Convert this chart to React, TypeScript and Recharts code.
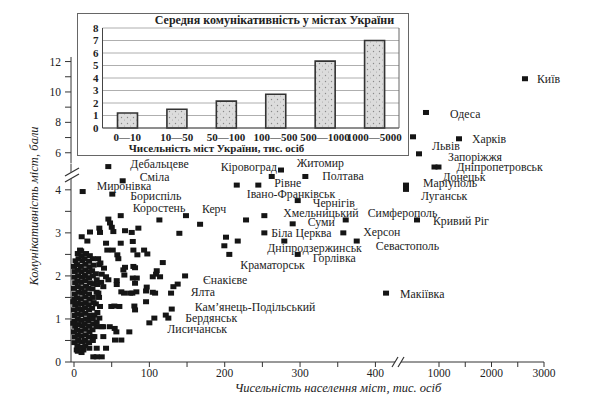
import React from "react";
import { ScatterChart, Scatter, XAxis, YAxis, BarChart, Bar, CartesianGrid } from "recharts";

const SERIF = '"Liberation Serif", "DejaVu Serif", serif';

// inset: average communicativeness by city size group
const sizeGroups = ["0—10", "10—50", "50—100", "100—500", "500—1000", "1000—5000"];
const groupComm = [1.2, 1.5, 2.15, 2.7, 5.35, 7.0];
const insetTicks = [0, 1, 2, 3, 4, 5, 6, 7, 8];

// labelled cities left of the x break (population, thousands / score)
const cityNames = [
  "Дебальцеве", "Сміла", "Миронівка", "Бориспіль", "Коростень", "Керч", "Кіровоград", "Житомир",
  "Полтава", "Рівне", "Івано-Франківськ", "Чернігів", "Хмельницький", "Суми", "Біла Церква",
  "Дніпродзержинськ", "Горлівка", "Краматорськ", "Симферополь", "Херсон", "Севастополь", "Макіївка",
  "Єнакієве", "Ялта", "Кам’янець-Подільський", "Бердянськ", "Лисичанськ",
];
const cityPop = [45.5, 64.6, 11.5, 50.8, 62, 148.6, 274.7, 262.4, 307, 244.6, 216, 296.9, 252.6, 290.2, 252.6, 279.1, 296.9, 206.1, 360.6, 357.4, 375.2, 414.1, 147.4, 137.6, 129.7, 125.2, 100];
const cityComm = [4.54, 4.21, 3.96, 3.9, 3.4, 3.4, 4.46, 4.31, 4.31, 4.11, 4.11, 3.75, 3.4, 3.21, 3.0, 2.81, 2.5, 2.5, 3.3, 3.0, 2.81, 1.6, 2.0, 1.81, 1.23, 1.02, 0.91];

// big cities, drawn right of the x break
const majorNames = ["Київ", "Одеса", "Львів", "Харків", "Запоріжжя", "Дніпропетровськ", "Донецьк", "Маріуполь", "Луганськ", "Кривий Ріг"];
const majorPop = [2638, 752, 505, 1381, 619, 914, 990, 371, 371, 581];
const majorComm = [10.87, 8.65, 7.05, 6.92, 5.93, 4.53, 4.53, 4.11, 4.01, 3.3];

// label placement relative to the marker (px)
const cityLabelAt: [number, number, string?][] = [
  [22, -3], [17, -4], [14, -6], [18, 2], [12, -8], [16, -7], [-4, -3, "end"], [25, -13],
  [17, 0], [16, -2], [10, 9], [15, 2], [19, -3], [15, -2], [7, 0],
  [-17, 7], [15, 4], [11, 11], [22, -7], [20, -1], [19, 5], [14, 1],
  [18, 4], [13, 8], [23, -2], [17, 0], [18, 6],
];
const majorLabelAt: [number, number][] = [[12, 0], [24, 2], [19, 9], [13, 0], [29, 3], [22, 0], [4, 10], [17, -2], [15, 7], [16, 1]];

// unlabelled towns [population, score]
const towns: [number, number][] = [
  [10.2, 2.91], [21.2, 3.02], [33.6, 3.11], [34.5, 3.01], [45.6, 3.32], [47.8, 3.23], [50.1, 3.13], [52.2, 3.03],
  [67.7, 3.05], [76.6, 3.01], [85.4, 3.11], [17.7, 2.81], [42.5, 2.76], [62, 2.76], [78, 2.8], [8, 2.6],
  [44.2, 2.6], [51.4, 2.6], [57.5, 2.49], [58.8, 2.4], [78.8, 2.6], [84.1, 2.49], [93, 2.6], [97.3, 2.51],
  [113.3, 3.3], [167.3, 3.2], [139.8, 2.99], [117.8, 2.31], [67.7, 2.2], [78.8, 2.22], [65.5, 2.14], [109.8, 2.12],
  [66.8, 2.02], [108.9, 2.04], [104.5, 1.98], [114.2, 1.98], [78, 1.95], [83.3, 1.95], [56.7, 1.89], [56.7, 1.8],
  [96.5, 1.74], [81, 1.83], [77.4, 1.6], [66.4, 1.6], [104.5, 1.62], [128.8, 1.6], [131.9, 1.75], [107.6, 1.6],
  [95.6, 1.65], [74.4, 1.6], [95.6, 1.4], [53.5, 1.3], [60.2, 1.29], [80.1, 1.3], [81, 1.21], [106.6, 1.02],
  [121.8, 1.09], [73.4, 0.7], [81, 2.19], [62.8, 1.63], [82.7, 1.63], [49.5, 1.29], [38.5, 0.82], [47.4, 0.82],
  [54, 0.78], [56.2, 0.7], [62.8, 0.51], [54.4, 0.51], [25.2, 0.59], [36.8, 0.82], [42.5, 0.32], [30.1, 0.32],
  [25.6, 0.12], [36.8, 0.12], [30.1, 0.12], [3.6, 0.28], [12.4, 0.28], [20.3, 0.32], [33.2, 1.5], [34.5, 1.29],
  [22.2, 1.05], [27, 1.09], [33.6, 1.02], [30.1, 0.82], [38.9, 0.59], [27, 0.59], [38.9, 1.75], [32.3, 1.6],
  [33.6, 2.26], [39.8, 2.18], [36.8, 2.04], [42.5, 1.98], [45.6, 1.91], [30.1, 1.91],
  [201.7, 2.9], [217.3, 2.81], [199.5, 2.7], [228.3, 3.3],
  // the dense block of small towns
  [0.5, 0.45], [1, 0.58], [0, 0.7], [1.5, 0.83], [0.5, 0.95], [1, 1.08], [0, 1.21], [1.5, 1.33], [0.5, 1.46],
  [1, 1.58], [0, 1.71], [1.5, 1.84], [0.5, 1.97], [1, 2.1], [0, 2.22], [2, 2.35], [-1, 1.4], [-1, 0.9],
  [5, 0.25], [4.5, 0.38], [5.5, 0.5], [5, 0.62], [4, 0.74], [6, 0.87], [5, 0.99], [4.5, 1.12], [5.5, 1.24],
  [5, 1.36], [4, 1.49], [6, 1.62], [5, 1.75], [4.5, 1.88], [5.5, 2.0], [5, 2.13], [4, 2.26], [6, 2.4], [5, 2.52],
  [10, 0.22], [9.5, 0.34], [10.5, 0.47], [10, 0.6], [9, 0.72], [11, 0.84], [10, 0.97], [9.5, 1.1], [10.5, 1.22],
  [10, 1.35], [9, 1.47], [11, 1.6], [10, 1.72], [9.5, 1.85], [10.5, 1.97], [10, 2.1], [9, 2.22], [11, 2.35],
  [10, 2.47], [9.5, 2.58],
  [15, 0.38], [14.5, 0.5], [15.5, 0.63], [15, 0.76], [14, 0.88], [16, 1.0], [15, 1.13], [14.5, 1.26], [15.5, 1.38],
  [15, 1.51], [14, 1.63], [16, 1.76], [15, 1.89], [14.5, 2.01], [15.5, 2.14], [15, 2.27], [14, 2.4], [16, 2.52],
  [20, 0.45], [19.5, 0.58], [20.5, 0.7], [20, 0.83], [19, 0.95], [21, 1.08], [20, 1.21], [19.5, 1.33], [20.5, 1.46],
  [20, 1.58], [19, 1.71], [21, 1.84], [20, 1.96], [19.5, 2.09], [20.5, 2.21], [20, 2.34], [21, 2.47],
  [25, 0.5], [24.5, 0.75], [25.5, 0.88], [25, 1.0], [24, 1.25], [26, 1.38], [25, 1.5], [24.5, 1.7], [25.5, 1.82],
  [25, 2.0], [24, 2.12], [26, 2.25], [25, 2.4],
  [30, 0.92], [31, 1.15], [29, 1.35], [30, 1.62], [31, 1.8], [29, 2.05], [32, 2.4], [36, 1.85], [35, 2.3],
];

const lowXTicks = [0, 50, 100, 150, 200, 250, 300, 350, 400];
const highXTicks = [1000, 1500, 2000, 2500, 3000];
const lowYTicks = [0, 0.5, 1, 1.5, 2, 2.5, 3, 3.5, 4];
const highYTicks = [6, 7, 8, 9, 10, 11, 12];

const TICK = { fill: "#222", fontSize: 11.5, fontFamily: SERIF };
const AXIS = { stroke: "#333" };

const renderTown = (props: any) => (
  <rect x={props.cx - 3} y={props.cy - 2.5} width={6} height={5} fill="#151515" />
);

const renderCity = (props: any) => {
  const { cx, cy, payload } = props;
  return (
    <g>
      <rect x={cx - 3} y={cy - 2.5} width={6} height={5} fill="#151515" />
      <text
        x={cx + payload.dx}
        y={cy + payload.dy}
        textAnchor={payload.anchor}
        dominantBaseline="central"
        fontSize={11.8}
        fontFamily={SERIF}
        fill="#222"
      >
        {payload.name}
      </text>
    </g>
  );
};

const cities = cityNames.map((name, i) => ({
  name, x: cityPop[i], y: cityComm[i],
  dx: cityLabelAt[i][0], dy: cityLabelAt[i][1], anchor: cityLabelAt[i][2] ?? "start",
}));
const majors = majorNames.map((name, i) => ({
  name, x: majorPop[i], y: majorComm[i],
  dx: majorLabelAt[i][0], dy: majorLabelAt[i][1], anchor: "start",
}));
const townPoints = towns.map(([x, y]) => ({ x, y }));
const insetData = sizeGroups.map((group, i) => ({ group, value: groupComm[i] }));

type PanelProps = {
  left: number; top: number; width: number; height: number;
  margin: { top: number; right: number; bottom: number; left: number };
  xDomain: [number, number]; yDomain: [number, number];
  xTicks?: number[]; yTicks?: number[];
  xFormat?: (v: number) => string; yFormat?: (v: number) => string;
  towns?: any[]; cities?: any[];
};

function Panel(p: PanelProps) {
  return (
    <div style={{ position: "absolute", left: p.left, top: p.top }}>
      <ScatterChart width={p.width} height={p.height} margin={p.margin}>
        <XAxis
          type="number" dataKey="x" domain={p.xDomain} ticks={p.xTicks} hide={!p.xTicks} interval={0}
          tickFormatter={p.xFormat} height={30} tickSize={5} tickMargin={2}
          axisLine={AXIS} tickLine={AXIS} tick={TICK}
        />
        <YAxis
          type="number" dataKey="y" domain={p.yDomain} ticks={p.yTicks} hide={!p.yTicks} interval={0}
          tickFormatter={p.yFormat} width={40} tickSize={6} tickMargin={4}
          axisLine={AXIS} tickLine={AXIS} tick={TICK}
        />
        <Scatter data={p.towns ?? []} shape={renderTown} isAnimationActive={false} />
        <Scatter data={p.cities ?? []} shape={renderCity} isAnimationActive={false} />
      </ScatterChart>
    </div>
  );
}

// axis segments: lower-left plot spans x 71..395 px, right segment 401..544 px
const LOW_Y: [number, number] = [0, 4.6];
const HIGH_Y: [number, number] = [5.3, 12.3];
const LEFT_X: [number, number] = [-4, 426];
const RIGHT_X: [number, number] = [276, 3000];
// upper panel carries the y axis at 71 px, so its hidden x range reaches further left
const UPPER_X: [number, number] = [RIGHT_X[0] - ((401 - 71) * (RIGHT_X[1] - RIGHT_X[0])) / 143, RIGHT_X[1]];

export default function App() {
  return (
    <div style={{ position: "absolute", left: 0, top: 0, width: 592, height: 398, background: "#fff", overflow: "hidden", fontFamily: SERIF }}>
      {/* lower-left: small and mid-size cities */}
      <Panel
        left={31} top={144} width={434} height={248}
        margin={{ top: 20, right: 70, bottom: 0, left: 0 }}
        xDomain={LEFT_X} yDomain={LOW_Y} xTicks={lowXTicks} yTicks={lowYTicks}
        xFormat={(v) => (v % 100 === 0 ? String(v) : "")}
        yFormat={(v) => (Number.isInteger(v) ? String(v) : "")}
        towns={townPoints}
        cities={cities}
      />
      {/* lower-right: big cities, compressed x */}
      <Panel
        left={401} top={144} width={203} height={248}
        margin={{ top: 20, right: 60, bottom: 0, left: 0 }}
        xDomain={RIGHT_X} yDomain={LOW_Y} xTicks={highXTicks}
        xFormat={(v) => (v % 1000 === 0 ? String(v) : "")}
        cities={majors.filter((c) => c.y < 5)}
      />
      {/* upper part: y axis above the break, big cities with high scores */}
      <Panel
        left={31} top={37.24} width={573} height={131.4}
        margin={{ top: 20, right: 60, bottom: 5, left: 0 }}
        xDomain={UPPER_X} yDomain={HIGH_Y} yTicks={highYTicks}
        yFormat={(v) => (v % 2 === 0 ? String(v) : "")}
        cities={majors.filter((c) => c.y >= 5)}
      />

      {/* inset bar chart */}
      <div style={{ position: "absolute", left: 77, top: 12.5, width: 332, height: 143, border: "1.5px solid #666", boxSizing: "border-box", background: "#fff" }}>
        <div style={{ position: "absolute", left: 196.5, top: 6, transform: "translate(-50%, -50%)", whiteSpace: "nowrap", fontSize: 12, fontWeight: "bold", color: "#222", lineHeight: "14px" }}>
          Середня комунікативність у містах України
        </div>
        <BarChart width={329} height={140} data={insetData} margin={{ top: 14, right: 7, bottom: 0, left: 2.5 }}>
          <defs>
            <pattern id="stipple" width="6" height="6" patternUnits="userSpaceOnUse">
              <rect width="6" height="6" fill="#dcdcdc" />
              <circle cx="1.5" cy="1.5" r="0.7" fill="#8a8a8a" />
              <circle cx="4.5" cy="4" r="0.5" fill="#a0a0a0" />
            </pattern>
          </defs>
          <CartesianGrid vertical={false} stroke="#9a9a9a" strokeWidth={0.8} />
          <XAxis
            dataKey="group" height={26} interval={0} tickLine={false} tickSize={0} tickMargin={5}
            axisLine={{ stroke: "#444" }}
            tick={{ fill: "#222", fontSize: 11, fontWeight: "bold", fontFamily: SERIF }}
          />
          <YAxis
            domain={[0, 8]} ticks={insetTicks} interval={0} width={22} tickLine={false} tickSize={0} tickMargin={4}
            axisLine={{ stroke: "#444" }}
            tick={{ fill: "#222", fontSize: 11, fontWeight: "bold", fontFamily: SERIF }}
          />
          <YAxis yAxisId="r" orientation="right" domain={[0, 8]} width={1} tick={false} tickLine={false} axisLine={{ stroke: "#666" }} />
          <Bar dataKey="value" barSize={20} fill="url(#stipple)" stroke="#333" strokeWidth={1.6} isAnimationActive={false} />
        </BarChart>
        <div style={{ position: "absolute", left: 138.5, top: 134, transform: "translate(-50%, -50%)", whiteSpace: "nowrap", fontSize: 11, fontWeight: "bold", color: "#222", lineHeight: "13px" }}>
          Чисельність міст України, тис. осіб
        </div>
      </div>

      {/* axis breaks */}
      <svg width={592} height={398} style={{ position: "absolute", left: 0, top: 0, pointerEvents: "none" }}>
        <polygon points="64,176 80,167 80,174 64,183" fill="#fff" />
        <line x1={65} y1={176} x2={79} y2={168} stroke="#333" strokeWidth={1.2} />
        <line x1={65} y1={182} x2={79} y2={174} stroke="#333" strokeWidth={1.2} />
        <line x1={392} y1={367} x2={398} y2={357} stroke="#333" strokeWidth={1.2} />
        <line x1={398} y1={367} x2={404} y2={357} stroke="#333" strokeWidth={1.2} />
      </svg>

      {/* axis titles */}
      <div style={{ position: "absolute", left: 34, top: 206, transform: "translate(-50%, -50%) rotate(-90deg)", whiteSpace: "nowrap", fontSize: 12.5, fontStyle: "italic", color: "#222" }}>
        Комунікативність міст, бали
      </div>
      <div style={{ position: "absolute", left: 338, top: 388, transform: "translate(-50%, -50%)", whiteSpace: "nowrap", fontSize: 12.5, fontStyle: "italic", color: "#222" }}>
        Чисельність населення міст, тис. осіб
      </div>
    </div>
  );
}
